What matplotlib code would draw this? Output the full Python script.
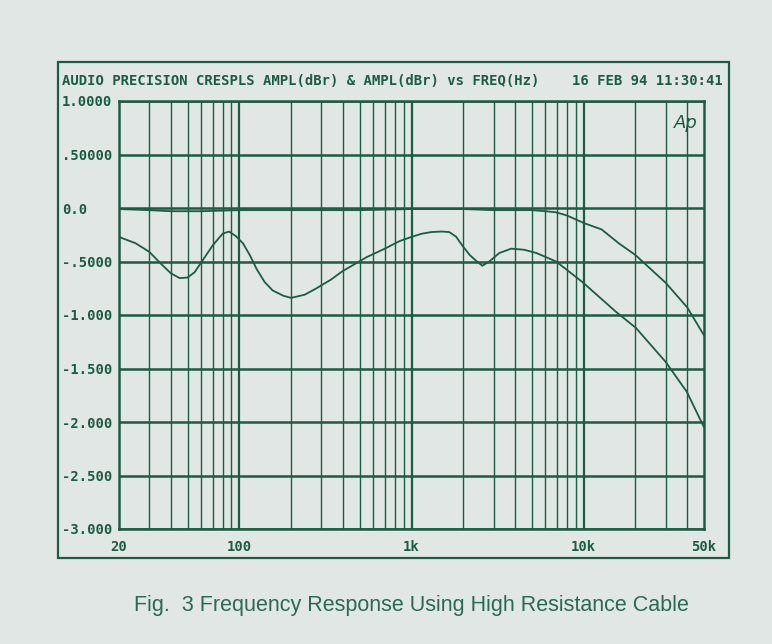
import matplotlib.pyplot as plt
from matplotlib.patches import Rectangle

# response with high resistance cable (dBr vs Hz)
freq_a = [20, 30, 40, 60, 100, 200, 500, 1000, 2000, 3000, 5000, 6000, 6900, 8000,
          10000, 12700, 16000, 20000, 30000, 40000, 50000]
ampl_a = [-0.01, -0.02, -0.03, -0.03, -0.02, -0.02, -0.02, -0.01, -0.01, -0.02,
          -0.02, -0.03, -0.04, -0.07, -0.14, -0.20, -0.33, -0.44, -0.70, -0.93, -1.19]

freq_b = [20, 25, 30, 35, 40, 45, 50, 55, 60, 70, 80, 87, 95, 105, 115, 126, 140,
          156, 180, 200, 240, 281, 340, 398, 548, 700, 851, 1000, 1150, 1300, 1500,
          1660, 1820, 1970, 2180, 2400, 2580, 2830, 3240, 3800, 4500, 5300, 6920,
          9800, 15400, 20100, 30000, 39800, 50000]
ampl_b = [-0.27, -0.33, -0.41, -0.52, -0.61, -0.655, -0.65, -0.60, -0.51, -0.35,
          -0.24, -0.22, -0.26, -0.33, -0.44, -0.57, -0.69, -0.77, -0.82, -0.84,
          -0.81, -0.75, -0.67, -0.59, -0.46, -0.38, -0.31, -0.27, -0.24, -0.225,
          -0.22, -0.225, -0.27, -0.35, -0.44, -0.50, -0.54, -0.50, -0.42, -0.38,
          -0.39, -0.42, -0.50, -0.69, -0.97, -1.12, -1.44, -1.72, -2.05]

y_ticks = [1.0, 0.5, 0.0, -0.5, -1.0, -1.5, -2.0, -2.5, -3.0]
y_labels = ['1.0000', '.50000', '0.0', '-.5000', '-1.000', '-1.500', '-2.000', '-2.500', '-3.000']
x_ticks = [20, 100, 1000, 10000, 50000]
x_labels = ['20', '100', '1k', '10k', '50k']

BG = '#e1e7e4'
INK = '#1b5c43'
MONO = 'DejaVu Sans Mono'

fig = plt.figure(figsize=(7.72, 6.44), dpi=100, facecolor=BG)
ax = fig.add_axes([119 / 772, 1 - 529 / 644, 585 / 772, 428 / 644])
ax.set_facecolor(BG)

# outer frame of the analyser printout
fig.patches.append(Rectangle((58 / 772, 1 - 558 / 644), 671 / 772, 496 / 644,
                             transform=fig.transFigure, fill=False,
                             edgecolor=INK, lw=1.6))

ax.set_xscale('log')
ax.set_xlim(20, 50000)
ax.set_ylim(-3.0, 1.0)

# grid
for y in y_ticks:
    ax.axhline(y, color=INK, lw=1.8, zorder=1)
for dec in [10, 100, 1000, 10000]:
    for m in range(1, 10):
        f = dec * m
        if 20 < f < 50000:
            ax.axvline(f, color=INK, lw=1.6 if m == 1 else 1.0, zorder=1)

ax.plot(freq_a, ampl_a, color=INK, lw=1.3, zorder=3)
ax.plot(freq_b, ampl_b, color=INK, lw=1.3, zorder=3)

for s in ax.spines.values():
    s.set_color(INK)
    s.set_linewidth(1.8)

ax.set_yticks(y_ticks)
ax.set_yticklabels(y_labels, fontfamily=MONO, fontweight='bold', fontsize=10, color=INK)
for lbl in ax.get_yticklabels():
    lbl.set_ha('left')
ax.set_xticks(x_ticks)
ax.set_xticklabels(x_labels, fontfamily=MONO, fontweight='bold', fontsize=10, color=INK)
ax.minorticks_off()
ax.tick_params(axis='y', length=0, pad=41)
ax.tick_params(axis='x', length=0, pad=8)

fig.text(62 / 772, 1 - 81 / 644, 'AUDIO PRECISION CRESPLS AMPL(dBr) & AMPL(dBr) vs FREQ(Hz)',
         fontfamily=MONO, fontweight='bold', fontsize=10, color=INK, va='center', ha='left')
fig.text(723 / 772, 1 - 81 / 644, '16 FEB 94 11:30:41',
         fontfamily=MONO, fontweight='bold', fontsize=10, color=INK, va='center', ha='right')
ax.text(0.99, 0.97, 'Ap', transform=ax.transAxes, fontsize=13, style='italic',
        color=INK, ha='right', va='top')

fig.text(411 / 772, 1 - 605 / 644, 'Fig.  3 Frequency Response Using High Resistance Cable',
         fontfamily='Liberation Sans', fontsize=15.5,
         color='#2a6a55', ha='center', va='center')

fig.savefig('out.png', dpi=100, facecolor=BG)
